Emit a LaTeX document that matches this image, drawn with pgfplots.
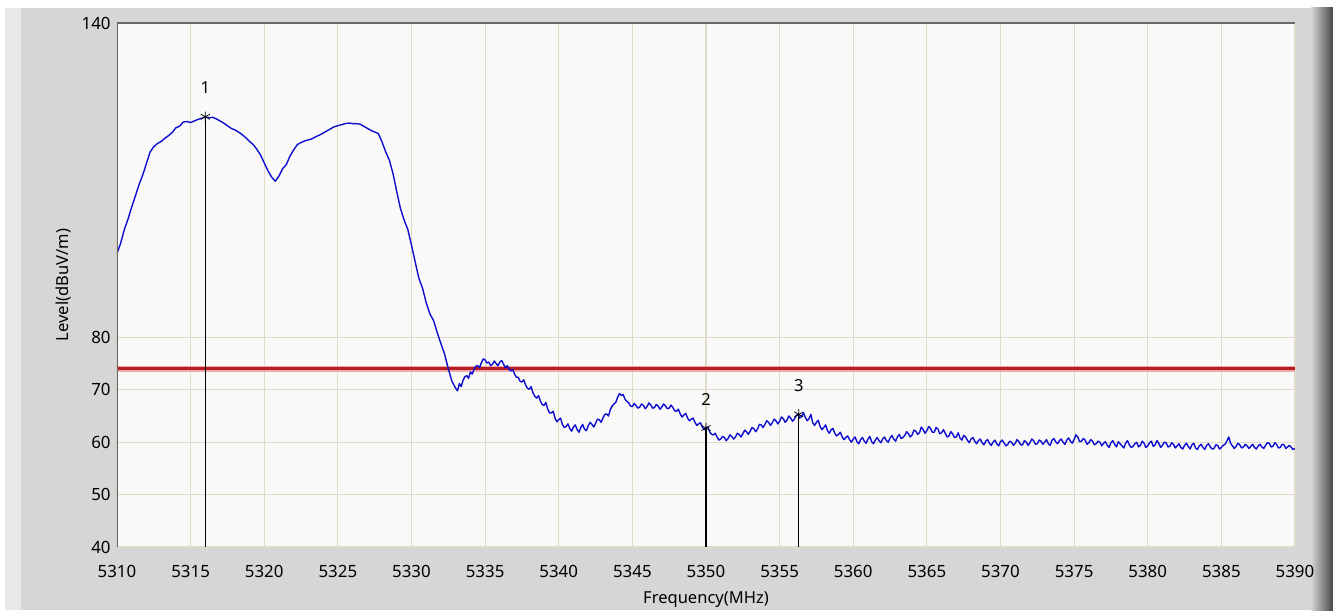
\documentclass[border=0pt]{standalone}
\usepackage{pgfplots}
\pgfplotsset{compat=1.18}
\usepackage{pgfplotstable}
\usepackage{fontspec}
\setmainfont{Noto Sans}
\definecolor{panel}{RGB}{214,214,214}
\definecolor{panellight}{RGB}{232,232,232}
\definecolor{edgedark}{RGB}{70,70,70}
\definecolor{plotbg}{RGB}{249,249,249}
\definecolor{gridc}{RGB}{224,219,200}
\definecolor{framec}{RGB}{105,105,105}
\definecolor{limitred}{RGB}{185,28,32}
\definecolor{limitglow}{RGB}{236,170,170}
\definecolor{tracec}{RGB}{15,15,205}

\pgfplotstableread{
f L
5310.00 96.0
5310.25 98.0
5310.50 100.6
5310.75 102.6
5311.00 104.9
5311.25 107.0
5311.50 109.2
5311.75 111.0
5312.00 113.2
5312.25 115.4
5312.50 116.4
5312.75 117.0
5313.00 117.4
5313.25 118.0
5313.50 118.5
5313.75 119.1
5314.00 120.0
5314.25 120.3
5314.50 121.1
5314.75 121.2
5315.00 121.0
5315.25 121.3
5315.50 121.6
5315.75 121.8
5316.00 122.1
5316.25 121.9
5316.50 122.0
5316.75 121.7
5317.00 121.3
5317.25 120.9
5317.50 120.4
5317.75 119.9
5318.00 119.6
5318.25 119.2
5318.50 118.7
5318.75 118.1
5319.00 117.4
5319.25 116.8
5319.50 115.9
5319.75 114.8
5320.00 113.3
5320.25 111.8
5320.50 110.6
5320.75 109.8
5321.00 110.8
5321.25 112.2
5321.50 113.0
5321.75 114.6
5322.00 115.8
5322.25 116.8
5322.50 117.2
5322.75 117.5
5323.00 117.7
5323.25 117.9
5323.50 118.3
5323.75 118.6
5324.00 119.0
5324.25 119.4
5324.50 119.8
5324.75 120.2
5325.00 120.4
5325.25 120.6
5325.50 120.8
5325.75 120.9
5326.00 120.8
5326.25 120.8
5326.50 120.7
5326.75 120.3
5327.00 119.9
5327.25 119.5
5327.50 119.2
5327.75 118.9
5328.00 117.3
5328.25 115.4
5328.50 113.8
5328.75 111.2
5329.00 107.8
5329.25 104.6
5329.50 102.4
5329.75 100.6
5330.00 97.6
5330.25 94.4
5330.50 91.3
5330.75 89.4
5331.00 86.6
5331.25 84.5
5331.50 83.2
5331.75 80.9
5332.00 78.8
5332.25 76.8
5332.50 74.0
5332.75 71.6
5333.000 70.3
5333.125 69.8
5333.250 71.2
5333.375 70.6
5333.500 71.8
5333.625 72.5
5333.750 72.7
5333.875 72.2
5334.000 73.4
5334.125 73.0
5334.250 73.9
5334.375 74.5
5334.500 74.6
5334.625 74.2
5334.750 75.2
5334.875 75.9
5335.000 75.7
5335.125 75.1
5335.250 75.3
5335.375 74.6
5335.500 74.9
5335.625 75.5
5335.750 75.0
5335.875 74.6
5336.000 75.3
5336.125 75.6
5336.250 74.9
5336.375 74.2
5336.500 74.6
5336.625 73.9
5336.750 73.6
5336.875 73.9
5337.000 73.0
5337.125 72.4
5337.250 72.4
5337.375 71.6
5337.500 71.5
5337.625 71.9
5337.750 70.9
5337.875 70.3
5338.000 70.1
5338.125 70.6
5338.250 69.4
5338.375 68.8
5338.500 68.4
5338.625 68.9
5338.750 67.9
5338.875 67.2
5339.000 67.0
5339.125 67.6
5339.250 66.3
5339.375 65.6
5339.500 65.6
5339.625 65.9
5339.750 64.6
5339.875 63.9
5340.000 64.3
5340.125 64.6
5340.250 63.4
5340.375 62.8
5340.500 63.0
5340.625 63.5
5340.750 62.6
5340.875 62.1
5341.000 62.9
5341.125 63.3
5341.250 62.4
5341.375 61.9
5341.500 62.8
5341.625 63.4
5341.750 62.5
5341.875 62.2
5342.000 63.1
5342.125 63.8
5342.250 63.4
5342.375 62.9
5342.500 63.6
5342.625 64.4
5342.750 64.3
5342.875 63.8
5343.000 64.6
5343.125 65.3
5343.250 65.4
5343.375 65.0
5343.500 66.2
5343.625 66.9
5343.750 67.3
5343.875 67.6
5344.000 68.6
5344.125 69.3
5344.250 68.9
5344.375 69.1
5344.500 68.2
5344.625 67.8
5344.750 67.5
5344.875 66.9
5345.000 66.8
5345.125 67.4
5345.250 67.0
5345.375 66.5
5345.500 66.7
5345.625 67.3
5345.750 67.0
5345.875 66.4
5346.000 66.8
5346.125 67.5
5346.250 67.1
5346.375 66.5
5346.500 66.6
5346.625 67.2
5346.750 66.9
5346.875 66.3
5347.000 66.7
5347.125 67.3
5347.250 66.9
5347.375 66.4
5347.500 66.5
5347.625 67.1
5347.750 66.6
5347.875 66.0
5348.000 65.9
5348.125 66.3
5348.250 65.4
5348.375 64.8
5348.500 65.2
5348.625 65.5
5348.750 64.6
5348.875 64.1
5349.000 64.4
5349.125 64.6
5349.250 63.8
5349.375 63.2
5349.500 63.5
5349.625 63.7
5349.750 62.9
5349.875 62.4
5350.000 62.7
5350.125 62.9
5350.250 62.0
5350.375 61.5
5350.500 61.4
5350.625 61.7
5350.750 61.0
5350.875 60.4
5351.000 60.6
5351.125 61.1
5351.250 60.9
5351.375 60.3
5351.500 60.7
5351.625 61.4
5351.750 61.1
5351.875 60.6
5352.000 61.0
5352.125 61.7
5352.250 61.5
5352.375 61.0
5352.500 61.6
5352.625 62.3
5352.750 62.0
5352.875 61.5
5353.000 62.1
5353.125 62.8
5353.250 62.6
5353.375 62.0
5353.500 62.5
5353.625 63.4
5353.750 63.3
5353.875 62.8
5354.000 63.4
5354.125 64.1
5354.250 63.8
5354.375 63.2
5354.500 63.7
5354.625 64.4
5354.750 64.1
5354.875 63.5
5355.000 64.0
5355.125 64.8
5355.250 64.5
5355.375 63.8
5355.500 64.2
5355.625 65.0
5355.750 64.6
5355.875 64.0
5356.000 64.4
5356.125 65.1
5356.250 65.3
5356.375 64.6
5356.500 65.0
5356.625 65.6
5356.750 64.7
5356.875 64.1
5357.000 64.5
5357.125 65.3
5357.250 63.7
5357.375 63.2
5357.500 63.8
5357.625 64.2
5357.750 63.0
5357.875 62.4
5358.000 62.8
5358.125 63.3
5358.250 62.2
5358.375 61.7
5358.500 62.4
5358.625 62.6
5358.750 61.7
5358.875 61.2
5359.000 61.5
5359.125 61.9
5359.250 61.0
5359.375 60.5
5359.500 60.9
5359.625 61.2
5359.750 60.5
5359.875 60.0
5360.000 60.6
5360.125 61.0
5360.250 60.1
5360.375 59.7
5360.500 60.5
5360.625 60.9
5360.750 60.2
5360.875 59.8
5361.000 60.6
5361.125 61.1
5361.250 60.1
5361.375 59.7
5361.500 60.4
5361.625 60.9
5361.750 60.3
5361.875 59.9
5362.000 60.6
5362.125 61.0
5362.250 60.3
5362.375 60.0
5362.500 60.8
5362.625 61.3
5362.750 60.6
5362.875 60.2
5363.000 61.0
5363.125 61.5
5363.250 60.7
5363.375 60.9
5363.500 61.3
5363.625 62.0
5363.750 61.6
5363.875 61.0
5364.000 61.4
5364.125 62.3
5364.250 62.1
5364.375 61.5
5364.500 61.8
5364.625 62.9
5364.750 62.4
5364.875 61.7
5365.000 62.2
5365.125 63.0
5365.250 62.6
5365.375 61.9
5365.500 61.9
5365.625 62.8
5365.750 62.5
5365.875 61.6
5366.000 61.8
5366.125 62.4
5366.250 61.7
5366.375 61.0
5366.500 61.2
5366.625 62.0
5366.750 61.6
5366.875 60.9
5367.000 61.0
5367.125 61.8
5367.250 60.8
5367.375 60.4
5367.500 61.3
5367.625 61.0
5367.750 60.4
5367.875 59.9
5368.000 60.6
5368.125 60.9
5368.250 60.2
5368.375 59.7
5368.500 60.3
5368.625 60.6
5368.750 59.9
5368.875 59.5
5369.000 60.2
5369.125 60.5
5369.250 59.8
5369.375 59.4
5369.500 60.0
5369.625 60.4
5369.750 59.7
5369.875 59.3
5370.000 60.1
5370.125 60.4
5370.250 59.8
5370.375 59.3
5370.500 59.6
5370.625 60.2
5370.750 60.0
5370.875 59.4
5371.000 59.8
5371.125 60.5
5371.250 60.1
5371.375 59.5
5371.500 59.5
5371.625 60.3
5371.750 60.0
5371.875 59.4
5372.000 59.9
5372.125 60.6
5372.250 60.3
5372.375 59.6
5372.500 59.7
5372.625 60.4
5372.750 60.2
5372.875 59.6
5373.000 60.0
5373.125 60.5
5373.250 59.7
5373.375 59.4
5373.500 60.4
5373.625 60.7
5373.750 60.1
5373.875 59.7
5374.000 60.3
5374.125 60.6
5374.250 60.0
5374.375 59.6
5374.500 60.4
5374.625 60.8
5374.750 60.2
5374.875 59.8
5375.000 60.5
5375.125 61.4
5375.250 61.0
5375.375 60.1
5375.500 60.2
5375.625 60.7
5375.750 60.4
5375.875 59.6
5376.000 59.9
5376.125 60.5
5376.250 60.2
5376.375 59.5
5376.500 59.7
5376.625 60.2
5376.750 60.0
5376.875 59.3
5377.000 59.8
5377.125 60.1
5377.250 59.4
5377.375 59.0
5377.500 59.9
5377.625 60.3
5377.750 59.6
5377.875 59.1
5378.000 60.1
5378.125 59.7
5378.250 59.3
5378.375 58.9
5378.500 59.8
5378.625 60.3
5378.750 59.5
5378.875 59.0
5379.000 59.2
5379.125 59.7
5379.250 60.0
5379.375 59.1
5379.500 59.4
5379.625 60.2
5379.750 59.8
5379.875 59.0
5380.000 59.3
5380.125 59.9
5380.250 60.2
5380.375 59.2
5380.500 59.5
5380.625 60.3
5380.750 59.8
5380.875 59.0
5381.000 59.4
5381.125 60.0
5381.250 59.9
5381.375 59.1
5381.500 59.2
5381.625 59.9
5381.750 59.6
5381.875 58.9
5382.000 59.3
5382.125 59.7
5382.250 59.0
5382.375 58.7
5382.500 59.4
5382.625 59.8
5382.750 59.2
5382.875 58.7
5383.000 59.5
5383.125 59.8
5383.250 58.9
5383.375 58.6
5383.500 59.3
5383.625 59.6
5383.750 59.0
5383.875 58.6
5384.000 59.4
5384.125 59.7
5384.250 59.1
5384.375 58.7
5384.500 58.8
5384.625 59.5
5384.750 59.4
5384.875 58.7
5385.000 59.0
5385.125 59.4
5385.250 59.6
5385.375 60.2
5385.500 61.0
5385.625 59.8
5385.750 59.3
5385.875 58.8
5386.000 59.2
5386.125 59.8
5386.250 59.5
5386.375 58.9
5386.500 59.1
5386.625 59.6
5386.750 59.3
5386.875 58.8
5387.000 59.2
5387.125 59.6
5387.250 59.0
5387.375 58.7
5387.500 59.3
5387.625 59.6
5387.750 59.1
5387.875 58.8
5388.000 59.4
5388.125 59.9
5388.250 59.8
5388.375 59.1
5388.500 59.2
5388.625 59.9
5388.750 59.6
5388.875 58.9
5389.000 59.0
5389.125 59.6
5389.250 59.5
5389.375 58.8
5389.500 59.1
5389.625 59.4
5389.750 59.0
5389.875 58.6
5390.000 58.8
}\spectrum

\pgfplotstableread{
f L lab
5316.0 122.1 1
5350.0 62.7 2
5356.3 65.3 3
}\markers

\begin{document}
\begin{tikzpicture}
% window background
\fill[white] (0,0) rectangle (26.66cm,12.2cm);
\fill[panel] (0.1cm,0cm) rectangle (26.25cm,12.04cm);
\fill[panellight] (0.1cm,0cm) rectangle (0.42cm,12.04cm);
\shade[left color=panel, right color=edgedark] (26.22cm,0cm) rectangle (26.66cm,12.04cm);
\begin{axis}[
  at={(2.34cm,1.26cm)}, anchor=south west,
  scale only axis, width=23.56cm, height=10.48cm,
  xmin=5310, xmax=5390, ymin=40, ymax=140,
  xtick={5310,5315,...,5390},
  ytick={40,50,60,70,80,140},
  axis line style={draw=none},
  major tick length=0pt,
  grid=major,
  major grid style={draw=gridc, line width=0.6pt},
  axis background/.style={fill=plotbg},
  /pgf/number format/assume math mode=true,
  /pgf/number format/set thousands separator={},
  xticklabel style={font=\fontsize{9.6}{11}\selectfont, anchor=base, inner sep=0pt, yshift=-0.6cm},
  yticklabel style={font=\fontsize{9.6}{11}\selectfont, anchor=east, inner sep=0pt, xshift=-0.12cm},
  xlabel={Frequency(MHz)},
  ylabel={Level(dBuV/m)},
  xlabel style={font=\fontsize{9.4}{11}\selectfont, at={(axis description cs:0.5,0)}, anchor=base, inner sep=0pt, yshift=-1.12cm},
  ylabel style={font=\fontsize{9.4}{11}\selectfont, at={(axis description cs:0,0.5)}, anchor=center, yshift=1.06cm},
  clip=true,
]
% limit line
\addplot[draw=limitglow, line width=3.2pt, forget plot] coordinates {(5310,74) (5390,74)};
\addplot[draw=limitred, line width=1.7pt, forget plot] coordinates {(5310,74) (5390,74)};
% marker lines
\addplot[black, line width=0.6pt, forget plot] coordinates {(5316.0,40) (5316.0,122.1)};
\addplot[black, line width=0.6pt, forget plot] coordinates {(5350.0,40) (5350.0,62.7)};
\addplot[black, line width=0.6pt, forget plot] coordinates {(5356.3,40) (5356.3,65.3)};
% trace
\addplot[draw=tracec, line width=0.8pt, line join=round, forget plot] table[x=f, y=L] {\spectrum};
% markers with labels
\addplot[only marks, mark=asterisk, mark size=3pt, mark options={black, line width=0.4pt},
  nodes near coords, point meta=explicit symbolic,
  every node near coord/.style={font=\fontsize{9.4}{11}\selectfont, anchor=center, yshift=0.58cm, text=black}]
  table[x=f, y=L, meta=lab] {\markers};
% frame (sunken style: left and top)
\draw[framec, line width=0.7pt] (rel axis cs:0,0) -- (rel axis cs:0,1) -- (rel axis cs:1,1);
\end{axis}
\end{tikzpicture}
\end{document}
